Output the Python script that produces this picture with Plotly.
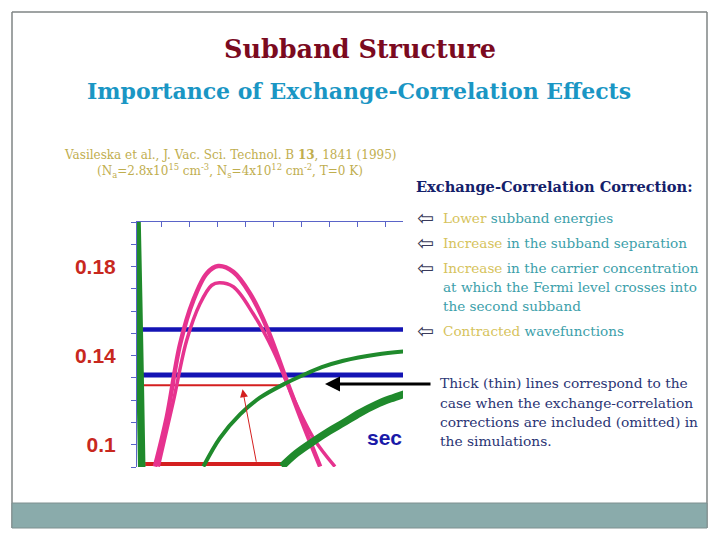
import plotly.graph_objects as go

# The page body has an 8px margin, so the figure is drawn 8px in from the
# window corner; the figure is sized so it fits the 720x540 window exactly.
OFF = 8
W, H = 720 - 2 * OFF, 540 - 2 * OFF

# ---- data ----
# x in arbitrary depth units (axis 0..9.5), y = energy (eV)
barrier_x = [0.0, 0.06, 0.12, 0.17]
barrier_y = [0.2015, 0.165, 0.125, 0.089]

thick_pot_x = [5.17, 5.70, 6.30, 6.85, 7.37, 7.95, 8.56, 9.05, 9.55]
thick_pot_y = [0.0902, 0.0962, 0.1015, 0.1060, 0.1098, 0.1142, 0.1181, 0.1206, 0.1228]

thin_pot_x = [2.37, 2.96, 3.68, 4.39, 5.23, 5.94, 6.60, 7.37, 8.56, 9.55]
thin_pot_y = [0.0902, 0.1030, 0.1136, 0.1211, 0.1271, 0.1313, 0.1348, 0.1377, 0.1405, 0.1419]

wf_thick_x = [0.64, 1.06, 1.54, 2.01, 2.49, 2.90, 3.44, 4.04, 4.63, 5.35, 5.94, 6.54]
wf_thick_y = [0.0902, 0.1121, 0.1452, 0.1648, 0.1769, 0.1802, 0.1776, 0.1678, 0.1528, 0.1286, 0.1090, 0.0902]

wf_thin_x = [0.76, 1.30, 1.77, 2.25, 2.67, 2.94, 3.44, 4.15, 4.87, 5.58, 6.30, 7.07]
wf_thin_y = [0.0902, 0.1196, 0.1467, 0.1633, 0.1716, 0.1727, 0.1709, 0.1588, 0.1422, 0.1211, 0.1030, 0.0902]

fermi_levels = {"E_F thick": (0.1517, 0.07), "E_F thin": (0.1313, 0.19)}
subband_thin = (0.1267, 0.11, 5.17)
subband_thick = (0.0913, 0.29, 5.17)

y_tickvals = [0.1, 0.14, 0.18]
y_ticktext = ["0.1", "0.14", "0.18"]

# ---- colours ----
GREEN = "#1f8a2c"
PINK = "#e6338f"
BLUE = "#1414b4"
RED = "#d41f1f"
AXIS = "#5a64c8"


def px(x):
    return (x - OFF) / W


def py(y):
    return 1 - (y - OFF) / H


fig = go.Figure()

# Fermi levels (blue)
for (yv, x0), w in zip(fermi_levels.values(), [4.5, 5]):
    fig.add_trace(go.Scatter(x=[x0, 9.6], y=[yv, yv], mode="lines",
                             line=dict(color=BLUE, width=w), hoverinfo="skip"))
# subband levels (red)
fig.add_trace(go.Scatter(x=[subband_thin[1], subband_thin[2]], y=[subband_thin[0]] * 2,
                         mode="lines", line=dict(color=RED, width=2)))
fig.add_trace(go.Scatter(x=[subband_thick[1], subband_thick[2]], y=[subband_thick[0]] * 2,
                         mode="lines", line=dict(color=RED, width=4)))
# wavefunctions
fig.add_trace(go.Scatter(x=wf_thin_x, y=wf_thin_y, mode="lines",
                         line=dict(color=PINK, width=3.5, shape="spline")))
fig.add_trace(go.Scatter(x=wf_thick_x, y=wf_thick_y, mode="lines",
                         line=dict(color=PINK, width=4.5, shape="spline")))
# potentials
fig.add_trace(go.Scatter(x=thin_pot_x, y=thin_pot_y, mode="lines",
                         line=dict(color=GREEN, width=4, shape="spline")))
fig.add_trace(go.Scatter(x=thick_pot_x, y=thick_pot_y, mode="lines",
                         line=dict(color=GREEN, width=7.5, shape="spline")))
fig.add_trace(go.Scatter(x=barrier_x, y=barrier_y, mode="lines",
                         line=dict(color=GREEN, width=7.5, shape="spline")))

# red arrow (excitation)
fig.add_annotation(x=3.77, y=0.1249, ax=4.27, ay=0.0917, xref="x", yref="y",
                   axref="x", ayref="y", showarrow=True, arrowhead=2, arrowsize=1.6,
                   arrowwidth=1, arrowcolor=RED, text="")

# black arrow pointing to the chart
fig.add_annotation(x=px(325), y=py(384), xref="paper", yref="paper",
                   ax=107, ay=0, axref="pixel", ayref="pixel", showarrow=True,
                   arrowhead=2, arrowsize=1, arrowwidth=3, arrowcolor="black", text="")

# "sec" clipped label
fig.add_annotation(x=px(365), y=py(437), xref="paper", yref="paper", xanchor="left",
                   yanchor="middle", showarrow=False, text="<b>sec</b>",
                   font=dict(family="Liberation Sans", size=21, color="#1a1aa8"))

# ---- slide texts ----
SERIF = "DejaVu Serif"


def txt(x, y, text, size, color, anchor="left", bold=False, family=SERIF):
    fig.add_annotation(x=px(x), y=py(y), xref="paper", yref="paper", xanchor=anchor,
                       yanchor="middle", showarrow=False, text=text,
                       font=dict(family=family, size=size, color=color,
                                 weight="bold" if bold else "normal"))


txt(360, 49, "Subband Structure", 25.5, "#7b0a1f", "center", True)
txt(359, 91, "Importance of Exchange-Correlation Effects", 22, "#1a96c4", "center", True)

CIT = "#bfae4f"
txt(230, 155, "Vasileska et al., J. Vac. Sci. Technol. B <b>13</b>, 1841 (1995)", 12, CIT, "center")
txt(230, 171, "(N<sub>a</sub>=2.8x10<sup>15</sup> cm<sup>-3</sup>, N<sub>s</sub>=4x10<sup>12</sup> cm<sup>-2</sup>, T=0 K)",
    12, CIT, "center")

txt(414, 187, "Exchange-Correlation Correction:", 14.6, "#14206a", "left", True)

YEL = "#d6c35c"
TEAL = "#3ca0aa"
bullets = [
    (218, "Lower", " subband energies"),
    (243, "Increase", " in the subband separation"),
    (268, "Increase", " in the carrier concentration"),
    (331, "Contracted", " wavefunctions"),
]
for yb, a, b in bullets:
    txt(415, yb, "\u21e6", 20, "#3a3a5a", "left", family="DejaVu Sans")
    txt(441, yb, f'<span style="color:{YEL}">{a}</span>{b}', 13.6, TEAL)
txt(441, 287, "at which the Fermi level crosses into", 13.6, TEAL)
txt(441, 306, "the second subband", 13.6, TEAL)

NAVY = "#2a3474"
para = ["Thick (thin) lines correspond to the",
        "case when the exchange-correlation",
        "corrections are included (omitted) in",
        "the simulations."]
for i, line in enumerate(para):
    txt(438, [383, 403, 422, 441][i], line, 13.8, NAVY)

# ---- slide frame and footer bar ----
FRAME = "#7f8585"
fig.add_shape(type="line", xref="paper", yref="paper", x0=px(12), x1=px(12), y0=py(12), y1=py(528),
              line=dict(color=FRAME, width=1.5))
fig.add_shape(type="line", xref="paper", yref="paper", x0=px(12), x1=px(707), y0=py(12), y1=py(12),
              line=dict(color=FRAME, width=1.5))
fig.add_shape(type="line", xref="paper", yref="paper", x0=px(707), x1=px(707), y0=py(12), y1=py(528),
              line=dict(color=FRAME, width=1.5))
fig.add_shape(type="rect", xref="paper", yref="paper", x0=px(12), x1=px(707), y0=py(528), y1=py(503),
              fillcolor="#8aabab", line=dict(color="#7f9090", width=1))

fig.update_layout(
    width=W, height=H, margin=dict(l=0, r=0, t=0, b=0),
    paper_bgcolor="white", plot_bgcolor="white", showlegend=False,
    xaxis=dict(domain=[px(137), px(403)], range=[0, 9.5], side="top", showline=True,
               linecolor=AXIS, linewidth=1, ticks="inside", ticklen=5, tickcolor=AXIS,
               tick0=0.87, dtick=1, showticklabels=False, showgrid=False, zeroline=False,
               automargin=False),
    yaxis=dict(domain=[py(467), py(222)], range=[0.09, 0.2], showline=True,
               linecolor=AXIS, linewidth=1, ticks="outside", ticklen=5, tickcolor=AXIS,
               tickvals=y_tickvals, ticktext=y_ticktext, ticklabelstandoff=11,
               tickfont=dict(family="Liberation Sans", size=21, color="#c8281e", weight="bold"),
               minor=dict(dtick=0.01, tick0=0.09, ticks="outside", ticklen=5, tickcolor=AXIS),
               showgrid=False, zeroline=False, automargin=False),
)

fig.write_html("out.html")
